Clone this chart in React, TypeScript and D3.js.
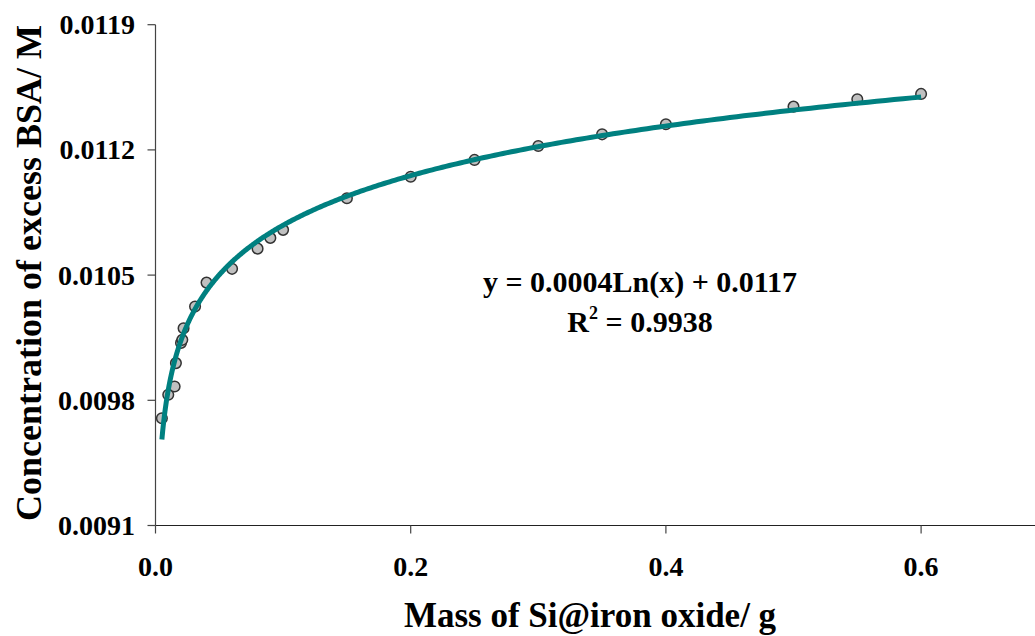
import React from "react";
import * as d3 from "d3";

// Mass of Si@iron oxide (g)
const massValues = [
  0.005, 0.01, 0.015, 0.016, 0.02, 0.021, 0.022, 0.031, 0.04, 0.06, 0.08, 0.09,
  0.1, 0.15, 0.2, 0.25, 0.3, 0.35, 0.4, 0.5, 0.55, 0.6,
];
// Concentration of excess BSA (M)
const concValues = [
  0.0097, 0.009831, 0.009877, 0.010008, 0.010121, 0.010138, 0.010203, 0.010324,
  0.010458, 0.010535, 0.010648, 0.010708, 0.010753, 0.01093, 0.01105, 0.011144,
  0.011222, 0.011287, 0.011343, 0.011442, 0.011483, 0.011513,
];
const xTicks = [0, 0.2, 0.4, 0.6];
const yTicks = [0.0091, 0.0098, 0.0105, 0.0112, 0.0119];

// Logarithmic fit: y = a·ln(x) + b
const fitA = 0.0004;
const fitB = 0.0117;
const rSquared = 0.9938;

const W = 1035;
const H = 636;
const FONT = "'Liberation Serif', 'Times New Roman', serif";

export default function App() {
  const x = d3.scaleLinear().domain([0, 0.7]).range([155.5, 155.5 + 0.7 * 1276]);
  const y = d3.scaleLinear().domain([0.0091, 0.0119]).range([525.5, 24.7]);

  const xMin = d3.min(massValues) as number;
  const xMax = d3.max(massValues) as number;
  const fitPts = d3.range(0, 401).map((i) => {
    const m = xMin * Math.pow(xMax / xMin, i / 400);
    return [m, fitA * Math.log(m) + fitB] as [number, number];
  });
  const fitLine = d3
    .line<[number, number]>()
    .x((d) => x(d[0]))
    .y((d) => y(d[1]))
    .curve(d3.curveLinear)(fitPts);

  const axisY = y(0.0091);
  const axisX = x(0);
  const fmtX = d3.format(".1f");
  const fmtY = d3.format(".4f");

  return (
    <svg
      width={W}
      height={H}
      style={{ position: "absolute", left: 0, top: 0, background: "#fff" }}
      fontFamily={FONT}
      fontWeight="bold"
    >
      {/* axes */}
      <line x1={axisX} x2={W} y1={axisY} y2={axisY} stroke="#222" strokeWidth={1.2} />
      <line x1={axisX} x2={axisX} y1={y(0.0119)} y2={axisY} stroke="#444" strokeWidth={1.2} />
      {xTicks.map((t) => (
        <g key={"x" + t}>
          <line x1={x(t)} x2={x(t)} y1={axisY} y2={axisY + 8} stroke="#444" strokeWidth={1.2} />
          <text x={x(t)} y={576} textAnchor="middle" fontSize={28} fill="#000">
            {fmtX(t)}
          </text>
        </g>
      ))}
      {yTicks.map((t) => (
        <g key={"y" + t}>
          <line x1={axisX - 8} x2={axisX} y1={y(t)} y2={y(t)} stroke="#444" strokeWidth={1.2} />
          <text x={135} y={y(t) + 9.5} textAnchor="end" fontSize={28} fill="#000">
            {fmtY(t)}
          </text>
        </g>
      ))}

      {/* data markers */}
      {massValues.map((m, i) => (
        <circle
          key={i}
          cx={x(m)}
          cy={y(concValues[i])}
          r={5.3}
          fill="#c0c0c0"
          stroke="#333"
          strokeWidth={1.5}
        />
      ))}

      {/* fitted curve */}
      <path d={fitLine || ""} fill="none" stroke="#008080" strokeWidth={5} strokeLinejoin="round" />

      {/* fit annotation */}
      <text x={640} y={292} textAnchor="middle" fontSize={30} fill="#000">
        {`y = ${fitA}Ln(x) + ${fitB}`}
      </text>
      <text x={640} y={332} textAnchor="middle" fontSize={30} fill="#000">
        R<tspan fontSize={18} dy={-13}>2</tspan>
        <tspan dy={13}>{` = ${rSquared}`}</tspan>
      </text>

      {/* axis titles */}
      <text x={590} y={627} textAnchor="middle" fontSize={35} fill="#000">
        Mass of Si@iron oxide/ g
      </text>
      <text
        transform={`translate(41, 273) rotate(-90)`}
        textAnchor="middle"
        fontSize={36}
        fill="#000"
      >
        Concentration of excess BSA/ M
      </text>
    </svg>
  );
}
